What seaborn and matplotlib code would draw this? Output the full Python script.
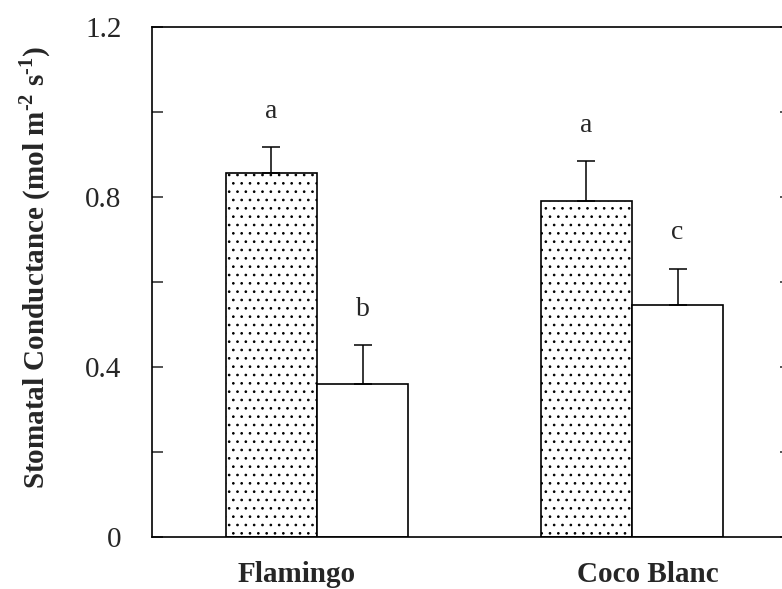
import matplotlib
matplotlib.use("Agg")
import matplotlib.pyplot as plt
import matplotlib.transforms as mtransforms
import pandas as pd
import seaborn as sns
from matplotlib.ticker import MultipleLocator

# Values
cultivars = ["Flamingo", "Coco Blanc"]
treatments = ["Dotted", "Open"]
dotted_mean = [0.857, 0.790]
dotted_err = [0.060, 0.094]
open_mean = [0.360, 0.545]
open_err = [0.091, 0.086]
dotted_letters = ["a", "a"]
open_letters = ["b", "c"]
y_ticks = [0, 0.4, 0.8, 1.2]
y_ticklabels = ["0", "0.4", "0.8", "1.2"]

df = pd.DataFrame({
    "cultivar": cultivars * 2,
    "treatment": [treatments[0]] * 2 + [treatments[1]] * 2,
    "value": dotted_mean + open_mean,
})

sns.set_style("ticks")
plt.rcParams["font.family"] = ["Liberation Serif", "DejaVu Serif"]
plt.rcParams["mathtext.fontset"] = "custom"
plt.rcParams["mathtext.rm"] = "Liberation Serif"
plt.rcParams["mathtext.bf"] = "Liberation Serif:bold"
plt.rcParams["hatch.linewidth"] = 0.7
plt.rcParams["hatch.color"] = "#333333"

fig = plt.figure(figsize=(7.82, 5.89), dpi=100)
ax = fig.add_axes([0.1944, 0.0883, 0.8171, 0.8659])

sns.barplot(data=df, x="cultivar", y="value", hue="treatment", order=cultivars,
            hue_order=treatments, palette=["white", "white"], edgecolor="black",
            linewidth=1.2, width=0.58, errorbar=None, legend=False, ax=ax)

# dotted fill for the first treatment
for patch in ax.containers[0]:
    patch.set_hatch("..")
    patch.set_edgecolor("black")

# upper-only error bars and significance letters
for cont, errs, letters in [(ax.containers[0], dotted_err, dotted_letters),
                            (ax.containers[1], open_err, open_letters)]:
    for patch, err, letter in zip(cont, errs, letters):
        xc = patch.get_x() + patch.get_width() / 2
        h = patch.get_height()
        ax.errorbar(xc, h, yerr=[[0], [err]], color="black", elinewidth=1.1,
                    capsize=6.5, capthick=1.1, fmt="none")
        ax.text(xc, h + err + 0.07, letter, ha="center", va="baseline", fontsize=20)

ax.set_ylim(0, 1.2)
ax.set_xlim(-0.524, 1.505)
ax.set_yticks(y_ticks, y_ticklabels)
ax.yaxis.set_minor_locator(MultipleLocator(0.2))
ax.tick_params(axis="y", which="both", direction="in", length=8, width=1.1,
               left=True, right=True)
ax.tick_params(axis="y", which="major", labelsize=21, pad=22)
ax.tick_params(axis="x", length=0, labelsize=21, pad=17)

# cultivar names sit slightly off the group centres in the original
shifts = [-20, 16]
for lab, dx in zip(ax.get_xticklabels(), shifts):
    lab.set_fontweight("bold")
    lab.set_transform(lab.get_transform() +
                      mtransforms.ScaledTranslation(dx / 100, 0, fig.dpi_scale_trans))

for side in ["top", "right", "left", "bottom"]:
    ax.spines[side].set_visible(True)
    ax.spines[side].set_linewidth(1.2)
    ax.spines[side].set_color("black")

ax.set_xlabel("")
ax.set_ylabel("Stomatal Conductance (mol m$^{\\mathbf{\u20102}}$ s$^{\\mathbf{\u20101}}$)",
              fontsize=21, fontweight="bold")
ax.yaxis.set_label_coords(-0.155, 0.528)

fig.savefig("out.png", dpi=100)
